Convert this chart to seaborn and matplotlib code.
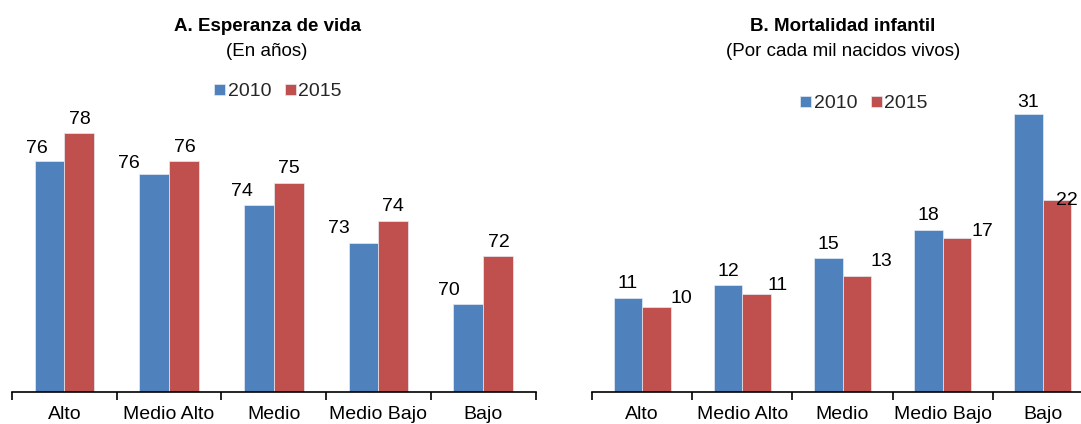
import matplotlib
matplotlib.use('Agg')
import matplotlib.pyplot as plt
import seaborn as sns
import pandas as pd

# Datos
niveles = ['Alto', 'Medio Alto', 'Medio', 'Medio Bajo', 'Bajo']
anios = ['2010', '2015']
vida_2010 = [76.3, 75.7, 74.3, 72.6, 69.8]
vida_2015 = [77.6, 76.3, 75.3, 73.6, 72.0]
mort_2010 = [10.6, 12.1, 15.1, 18.2, 31.3]
mort_2015 = [9.6, 11.1, 13.1, 17.3, 21.6]

BLUE = '#4F81BD'
RED = '#C0504D'
W, H = 1081, 424

# desplazamiento de las etiquetas (pixeles, respecto al tope de la barra)
nudge_a = {'2010': [(-13, 15), (-25, 13), (-17, 16), (-25, 17), (-19, 16)],
           '2015': [(1, 16), (1, 16), (0, 17), (0, 17), (1, 16)]}
nudge_b = {'2010': [(0, 17), (0, 16), (0, 16), (0, 17), (-1, 14)],
           '2015': [(25, 11), (21, 11), (25, 17), (25, 9), (10, 2)]}

sns.set_theme(style='white')
plt.rcParams['font.family'] = ['Liberation Sans', 'DejaVu Sans']
FS = 14

fig = plt.figure(figsize=(W / 100, H / 100), dpi=100)


def px_axes(x0, x1, y_top, y_bot):
    return fig.add_axes([x0 / W, 1 - y_bot / H, (x1 - x0) / W, (y_bot - y_top) / H])


def draw_panel(ax, v2010, v2015, ylim, nudges, title, subtitle, title_x, legend_xy):
    df = pd.DataFrame({
        'nivel': niveles * 2,
        'anio': [anios[0]] * len(niveles) + [anios[1]] * len(niveles),
        'valor': v2010 + v2015,
    })
    sns.barplot(data=df, x='nivel', y='valor', hue='anio', palette=[BLUE, RED],
                saturation=1, width=0.57, ax=ax, edgecolor='#e4ebf4', linewidth=0.5)
    ax.set_ylim(*ylim)
    ax.set_xlim(-0.5, len(niveles) - 0.5)
    ax.set_xlabel('')
    ax.set_ylabel('')
    ax.set_yticks([])
    for s in ['left', 'right', 'top']:
        ax.spines[s].set_visible(False)
    ax.spines['bottom'].set_color('black')
    ax.spines['bottom'].set_linewidth(1.2)
    ax.set_xticks([i - 0.5 for i in range(len(niveles) + 1)], minor=True)
    ax.tick_params(axis='x', which='minor', length=6, width=1.2, color='black',
                   direction='out', bottom=True)
    ax.tick_params(axis='x', which='major', length=0, pad=10, labelsize=FS,
                   labelcolor='black')

    for anio, cont, vals in zip(anios, ax.containers, [v2010, v2015]):
        for bar, val, (dx, dy) in zip(cont, vals, nudges[anio]):
            x = bar.get_x() + bar.get_width() / 2
            ax.annotate(f'{val:.0f}', xy=(x, val), xytext=(dx, dy - 7),
                        textcoords='offset pixels', ha='center', va='baseline',
                        fontsize=FS, color='black', annotation_clip=False)

    sns.move_legend(ax, 'center', bbox_to_anchor=(legend_xy[0] / W, 1 - legend_xy[1] / H),
                    bbox_transform=fig.transFigure, ncol=2, title=None, frameon=False,
                    fontsize=FS, handlelength=0.55, handleheight=0.55,
                    handletextpad=0.15, columnspacing=0.7)

    fig.text(title_x / W, 1 - 26.5 / H, title, ha='center', va='center',
             fontsize=13.5, fontweight='bold', color='black')
    fig.text(title_x / W, 1 - 52 / H, subtitle, ha='center', va='center',
             fontsize=13.5, color='black')


ax_a = px_axes(12, 535.5, 60, 392.3)
ax_b = px_axes(592, 1093, 60, 392.3)

draw_panel(ax_a, vida_2010, vida_2015, (65.8, 65.8 + 332.3 / 22), nudge_a,
           'A. Esperanza de vida', '(En años)', 267, (278, 92))
draw_panel(ax_b, mort_2010, mort_2015, (0, 332.3 / 8.9), nudge_b,
           'B. Mortalidad infantil', '(Por cada mil nacidos vivos)', 843, (864, 104))

fig.savefig('out.png', dpi=100)
plt.close()
